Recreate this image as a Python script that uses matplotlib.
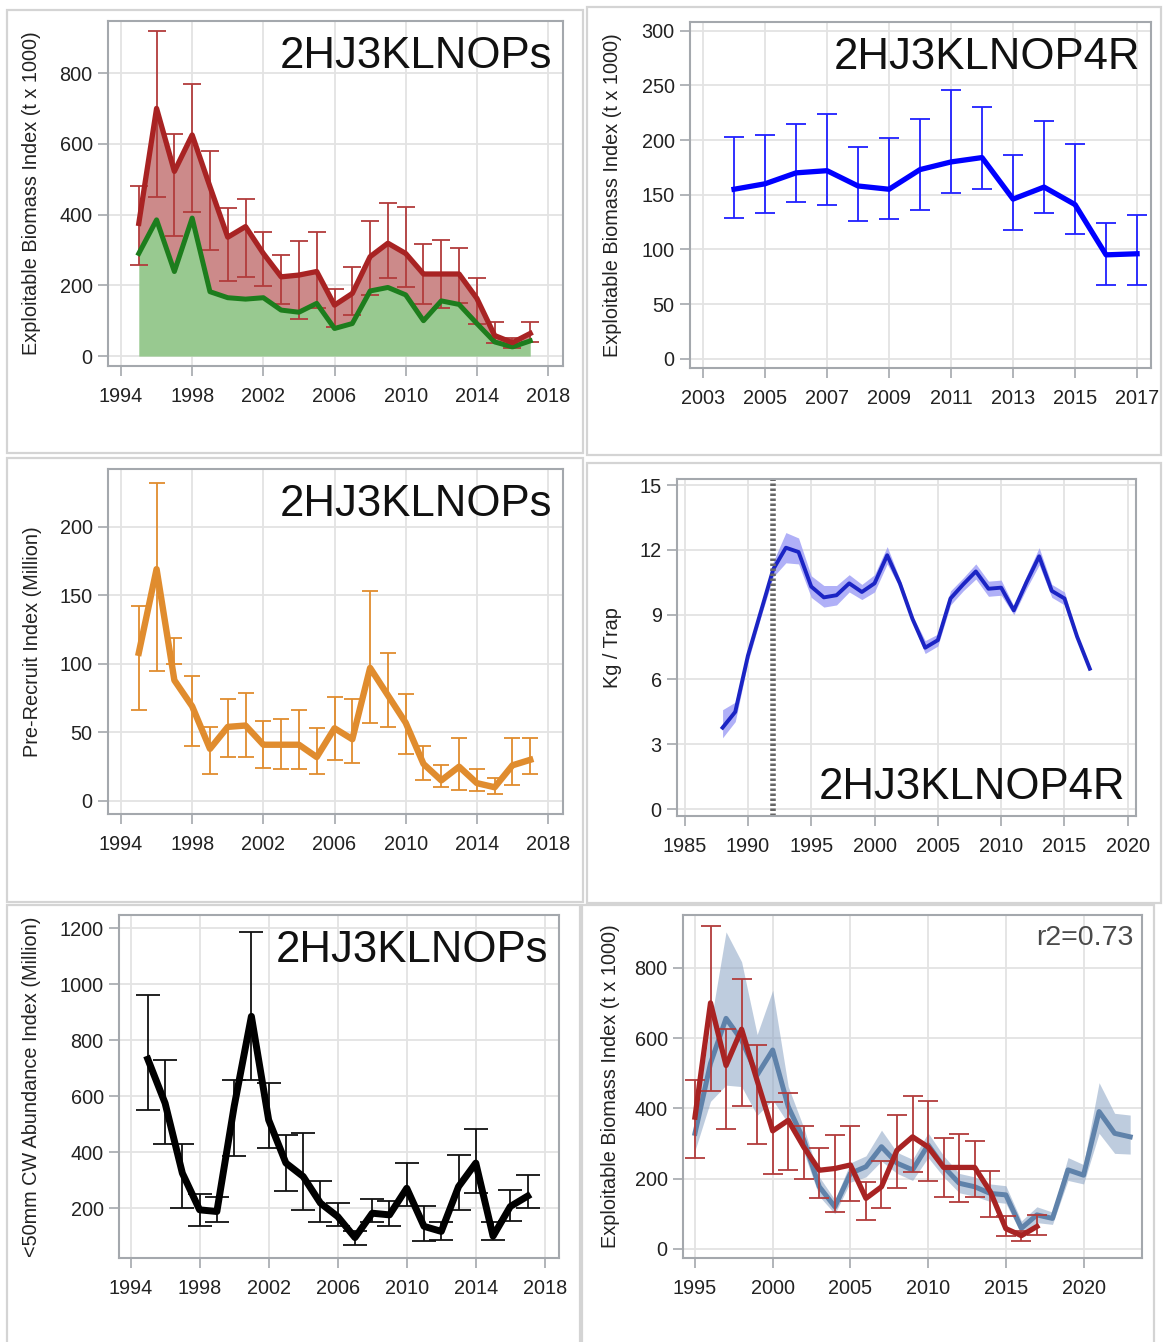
import numpy as np
import matplotlib
matplotlib.use('Agg')
import matplotlib.pyplot as plt
from matplotlib.patches import Rectangle

plt.rcParams['font.family'] = ['Liberation Sans', 'DejaVu Sans']

# exploitable biomass, 2HJ3KLNOPs (t x 1000)
eb_years = list(range(1995, 2018))
eb_index = [375, 700, 522, 625, 479, 336, 366, 290, 224, 229, 239, 144, 177,
            281, 319, 290, 232, 232, 232, 163, 58, 38, 64]
eb_lo = [258, 449, 340, 406, 300, 212, 224, 198, 146, 104, 137, 83, 116,
         173, 220, 194, 147, 135, 149, 92, 36, 22, 40]
eb_hi = [482, 920, 627, 769, 580, 418, 444, 350, 286, 324, 350, 190, 251,
         382, 434, 422, 317, 328, 306, 222, 95, 52, 97]
eb_lower = [290, 385, 239, 390, 182, 165, 161, 165, 130, 124, 149, 78, 92,
            184, 194, 173, 100, 156, 146, 92, 40, 26, 43]

# exploitable biomass, 2HJ3KLNOP4R
eb4_years = list(range(2004, 2018))
eb4_index = [155, 160, 170, 172, 158, 155, 173, 180, 184, 146, 157, 141, 95, 96]
eb4_lo = [129, 133, 143, 141, 126, 128, 136, 152, 155, 118, 133, 114, 67, 67]
eb4_hi = [203, 205, 215, 224, 194, 202, 219, 246, 230, 186, 217, 196, 124, 131]

# pre-recruit index (million)
pr_years = list(range(1995, 2018))
pr_index = [108, 169, 88, 69, 38, 54, 55, 41, 41, 41, 32, 53, 45, 97, 77, 57,
            27, 15, 25, 13, 10, 26, 30]
pr_lo = [66, 95, 100, 40, 20, 32, 32, 24, 23, 23, 20, 30, 28, 57, 54, 34,
         15, 10, 8, 7, 5, 12, 20]
pr_hi = [142, 232, 119, 91, 54, 74, 79, 58, 60, 66, 53, 76, 74, 153, 108, 78,
         40, 26, 46, 23, 17, 46, 46]

# fishery CPUE (kg / trap)
cpue_years = list(range(1988, 2018))
cpue = [3.77, 4.5, 7.1, 9.1, 11.1, 12.1, 11.9, 10.3, 9.8, 9.9, 10.45, 10.05,
        10.45, 11.75, 10.45, 8.8, 7.47, 7.82, 9.75, 10.4, 11.0, 10.2, 10.25,
        9.2, 10.5, 11.7, 10.1, 9.75, 7.98, 6.5]
cpue_lo = [3.3, 4.05, 6.8, 8.85, 10.75, 11.4, 11.35, 9.8, 9.35, 9.45, 10.05,
           9.7, 10.05, 11.35, 10.25, 8.65, 7.2, 7.55, 9.45, 10.1, 10.65, 9.85,
           9.9, 9.0, 10.2, 11.3, 9.8, 9.45, 7.85, 6.4]
cpue_hi = [4.6, 4.95, 7.4, 9.35, 11.45, 12.8, 12.55, 10.8, 10.35, 10.35, 10.85,
           10.4, 10.85, 12.15, 10.65, 8.95, 7.8, 8.1, 10.1, 10.7, 11.35, 10.55,
           10.6, 9.4, 10.8, 12.1, 10.4, 10.05, 8.1, 6.6]
cpue_mark = 1992

# <50mm CW abundance index (million)
sm_years = list(range(1995, 2018))
sm_index = [732, 575, 325, 194, 188, 563, 885, 515, 361, 313, 218, 170, 95,
            182, 176, 271, 135, 117, 277, 361, 100, 206, 243]
sm_lo = [549, 429, 200, 135, 149, 388, 658, 414, 260, 194, 149, 135, 69,
         149, 135, 206, 84, 87, 194, 254, 85, 154, 200]
sm_hi = [960, 730, 429, 251, 239, 658, 1185, 646, 462, 468, 298, 220, 120,
         233, 224, 363, 206, 152, 390, 482, 152, 265, 319]

# model predicted biomass
pred_years = list(range(1995, 2024))
pred = [329, 528, 656, 594, 495, 566, 405, 310, 177, 120, 215, 234, 291, 244,
        225, 296, 234, 187, 177, 158, 154, 59, 97, 87, 225, 210, 391, 329, 319]
pred_lo = [280, 420, 466, 462, 380, 424, 357, 275, 150, 100, 190, 205, 250,
           215, 195, 260, 205, 160, 150, 135, 130, 42, 75, 70, 195, 185, 329,
           272, 270]
pred_hi = [370, 640, 902, 817, 610, 736, 462, 345, 205, 140, 245, 265, 338,
           275, 255, 330, 265, 215, 205, 185, 180, 80, 120, 105, 260, 240, 473,
           386, 381]
r2_text = 'r2=0.73'

W, H = 1164, 1342
fig = plt.figure(figsize=(W / 100, H / 100), dpi=100)
fig.patch.set_facecolor('white')


def px_axes(l, t, r, b):
    return fig.add_axes([l / W, 1 - b / H, (r - l) / W, (b - t) / H])


def panel_box(l, t, r, b):
    fig.add_artist(Rectangle((l / W, 1 - b / H), (r - l) / W, (b - t) / H,
                             transform=fig.transFigure, fill=False,
                             edgecolor='#d4d4d4', linewidth=1.6))


def whiskers(ax, x, lo, hi, color, cap):
    # interval bars drawn straight from the lower/upper limits
    ax.vlines(x, lo, hi, color=color, linewidth=1.3)
    ax.plot(x, lo, linestyle='none', marker='_', markersize=cap,
            markeredgewidth=1.3, color=color)
    ax.plot(x, hi, linestyle='none', marker='_', markersize=cap,
            markeredgewidth=1.3, color=color)


def style(ax, xlim, ylim, xticks, yticks, ylabel, labx):
    ax.set_xlim(*xlim)
    ax.set_ylim(*ylim)
    ax.set_xticks(xticks)
    ax.set_yticks(yticks)
    ax.grid(True, color='#e3e3e3', linewidth=1.3)
    ax.set_axisbelow(True)
    for s in ax.spines.values():
        s.set_color('#a4a8ad')
        s.set_linewidth(1.5)
    ax.tick_params(direction='out', length=7, width=1.2, color='#a4a8ad',
                   labelcolor='#222222', labelsize=14.3)
    ax.tick_params(axis='x', pad=8)
    ax.tick_params(axis='y', pad=4)
    ax.set_ylabel(ylabel, fontsize=14.3, color='#222222')
    ax.yaxis.set_label_coords(labx, 0.5)


def area_tag(ax, text, top=True):
    if top:
        ax.annotate(text, xy=(1, 1), xycoords='axes fraction', xytext=(-8, -11),
                    textcoords='offset points', ha='right', va='top',
                    fontsize=31.5, color='#111111')
    else:
        ax.annotate(text, xy=(1, 0), xycoords='axes fraction', xytext=(-8, 6),
                    textcoords='offset points', ha='right', va='bottom',
                    fontsize=31.5, color='#111111')


panel_box(7, 10, 583, 453)
panel_box(587, 7, 1161, 455)
panel_box(7, 458, 583, 902)
panel_box(587, 463, 1161, 903)
panel_box(7, 905, 580, 1345)
panel_box(582, 905, 1154, 1345)

red = '#a82323'
red_bar = '#b23c3c'

# top left: exploitable biomass with lower bound
ax1 = px_axes(108, 21, 563, 366)
ax1.fill_between(eb_years, 0, eb_lower, color='#98c990', linewidth=0)
ax1.fill_between(eb_years, eb_lower, eb_index, color='#cc8a8a', linewidth=0)
whiskers(ax1, eb_years, eb_lo, eb_hi, red_bar, 13)
ax1.plot(eb_years, eb_lower, color='#1d7d1d', linewidth=3.6)
ax1.plot(eb_years, eb_index, color=red, linewidth=3.8)
style(ax1, (1993.27, 2018.84), (-28, 947), range(1994, 2019, 4),
      range(0, 801, 200), 'Exploitable Biomass Index (t x 1000)', -0.147)
area_tag(ax1, '2HJ3KLNOPs')

# top right: exploitable biomass incl. 4R
ax2 = px_axes(690, 22, 1151, 368)
whiskers(ax2, eb4_years, eb4_lo, eb4_hi, '#2020ff', 15)
ax2.plot(eb4_years, eb4_index, color='#0000ff', linewidth=3.8)
style(ax2, (2002.58, 2017.45), (-8.5, 308), range(2003, 2018, 2),
      range(0, 301, 50), 'Exploitable Biomass Index (t x 1000)', -0.1475)
area_tag(ax2, '2HJ3KLNOP4R')

# middle left: pre-recruits
orange = '#e08c2e'
ax3 = px_axes(108, 469, 563, 814)
whiskers(ax3, pr_years, pr_lo, pr_hi, orange, 11)
ax3.plot(pr_years, pr_index, color=orange, linewidth=4.6)
style(ax3, (1993.27, 2018.84), (-9.5, 242), range(1994, 2019, 4),
      range(0, 201, 50), 'Pre-Recruit Index (Million)', -0.145)
area_tag(ax3, '2HJ3KLNOPs')

# middle right: CPUE with confidence band
ax4 = px_axes(677, 479, 1136, 816)
ax4.fill_between(cpue_years, cpue_lo, cpue_hi, color='#9c9cf5', alpha=0.8,
                 linewidth=0)
ax4.plot(cpue_years, cpue, color='#1b24c4', linewidth=2.8)
ax4.axvline(cpue_mark, color='#666666', linewidth=4,
            linestyle=(0, (0.45, 0.45)), dash_capstyle='butt')
style(ax4, (1984.4, 2020.65), (-0.32, 15.28), range(1985, 2021, 5),
      range(0, 16, 3), 'Kg / Trap', -0.12)
area_tag(ax4, '2HJ3KLNOP4R', top=False)

# bottom left: small males
ax5 = px_axes(119, 915, 559, 1258)
whiskers(ax5, sm_years, sm_lo, sm_hi, '#111111', 17)
ax5.plot(sm_years, sm_index, color='black', linewidth=5)
style(ax5, (1993.33, 2018.82), (22, 1247), range(1994, 2019, 4),
      range(200, 1201, 200), '<50mm CW Abundance Index (Million)', -0.177)
area_tag(ax5, '2HJ3KLNOPs')

# bottom right: observed vs predicted biomass
ax6 = px_axes(683, 915, 1142, 1258)
ax6.fill_between(pred_years, pred_lo, pred_hi, color='#8aa3c4', alpha=0.55,
                 linewidth=0)
ax6.plot(pred_years, pred, color='#5f82aa', linewidth=3.6)
whiskers(ax6, eb_years, eb_lo, eb_hi, red_bar, 14)
ax6.plot(eb_years, eb_index, color=red, linewidth=3.8)
style(ax6, (1994.23, 2023.76), (-25.6, 950), range(1995, 2021, 5),
      range(0, 801, 200), 'Exploitable Biomass Index (t x 1000)', -0.137)
ax6.annotate(r2_text, xy=(1, 1), xycoords='axes fraction', xytext=(-6, -7),
             textcoords='offset points', ha='right', va='top',
             fontsize=20.5, color='#4a4a4a')

fig.savefig('out.png', dpi=100)
